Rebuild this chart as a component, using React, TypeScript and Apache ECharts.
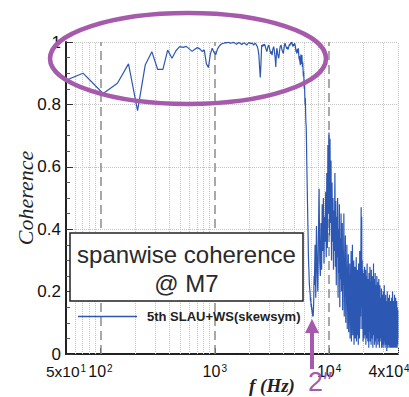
import React, { useEffect, useRef } from 'react';
import * as echarts from 'echarts';

const SERIES_NAME = '5th SLAU+WS(skewsym)';
const BIN_HZ = 35.2; // frequency resolution of the spectrum
const HIGH_STEP_BINS = 3; // high-frequency part is listed every 3rd bin

// coherence, bins 1..210 (f = k * BIN_HZ)
const cohLow: number[] = [
  0.855, 0.9, 0.835, 0.868, 0.93, 0.78, 0.926, 0.969, 0.912, 0.912,
  0.974, 0.948, 0.972, 0.985, 0.983, 0.986, 0.978, 0.97, 0.977, 0.982,
  0.978, 0.97, 0.974, 0.93, 0.918, 0.962, 0.98, 0.966, 0.96, 0.978,
  0.986, 0.992, 0.995,
  0.996, 0.998, 0.997, 0.999, 0.998, 0.996, 0.997, 0.999, 0.998, 0.995,
  0.993, 0.996, 0.998, 0.997, 0.994, 0.992, 0.995, 0.997, 0.996, 0.993,
  0.99, 0.994, 0.997, 0.998, 0.996, 0.994, 0.997, 0.995, 0.99, 0.993,
  0.996, 0.994, 0.988, 0.985, 0.975,
  0.958, 0.92, 0.886, 0.93, 0.99, 0.985, 0.992, 0.987, 0.993, 0.99,
  0.982, 0.975, 0.969, 0.978, 0.986, 0.99, 0.984, 0.975, 0.968, 0.962,
  0.97, 0.958, 0.972, 0.98, 0.985, 0.975, 0.96, 0.945, 0.92, 0.955,
  0.98, 0.972, 0.96, 0.952, 0.948, 0.96, 0.975, 0.985, 0.988, 0.99,
  0.982, 0.975, 0.97, 0.966, 0.963, 0.975, 0.985, 0.992, 0.996, 0.99,
  0.986, 0.982, 0.978, 0.984, 0.98, 0.976, 0.98, 0.985, 0.99, 0.993,
  0.988, 0.995, 0.997, 0.993, 0.998, 1.0, 0.995, 0.99, 0.985, 0.99,
  0.993, 0.988, 0.992, 0.996, 0.995, 0.985, 0.975, 0.968, 0.975, 0.963,
  0.97, 0.978, 0.972, 0.966, 0.98, 0.96, 0.945, 0.955, 0.94, 0.935,
  0.926, 0.95, 0.96, 0.945, 0.93, 0.958, 0.94, 0.92, 0.935, 0.91,
  0.89, 0.905, 0.88, 0.85, 0.87, 0.83, 0.8, 0.82, 0.77, 0.74,
  0.73, 0.68, 0.62, 0.57, 0.52, 0.47, 0.42, 0.38, 0.32, 0.29,
  0.27, 0.24, 0.22, 0.21, 0.2, 0.19, 0.17, 0.18, 0.16, 0.15,
  0.16, 0.14, 0.15, 0.13, 0.14, 0.12, 0.13, 0.12, 0.12, 0.16,
  0.21, 0.25,
];

// coherence, bins 211, 214, 217, ... (every 3rd bin up to ~40 kHz)
const cohHigh: number[] = [
  0.22, 0.35, 0.18, 0.41, 0.28, 0.2, 0.38, 0.53, 0.3, 0.25,
  0.42, 0.27, 0.48, 0.33, 0.5, 0.29, 0.44, 0.36, 0.52, 0.31,
  0.58, 0.34, 0.67, 0.45, 0.71, 0.38, 0.69, 0.42, 0.62, 0.3, 0.55,
  0.36, 0.5, 0.27, 0.46, 0.33, 0.58, 0.28, 0.49, 0.22, 0.44,
  0.31, 0.5, 0.18, 0.4, 0.26, 0.48, 0.15, 0.37, 0.24, 0.45, 0.2, 0.35,
  0.42, 0.14, 0.33, 0.22, 0.45, 0.12, 0.3, 0.19, 0.38, 0.1,
  0.27, 0.16, 0.35, 0.08, 0.25, 0.18, 0.32, 0.07, 0.22, 0.12, 0.29,
  0.05, 0.26, 0.11, 0.33, 0.04, 0.21, 0.14, 0.35, 0.06, 0.24,
  0.09, 0.3, 0.03, 0.19, 0.12, 0.28, 0.05, 0.23, 0.08, 0.31,
  0.04, 0.18, 0.13, 0.27, 0.06, 0.22, 0.03, 0.29, 0.1, 0.24,
  0.05, 0.33, 0.08, 0.21, 0.12, 0.3,
  0.47, 0.15, 0.44, 0.08, 0.3, 0.12, 0.27, 0.04, 0.22, 0.1, 0.26, 0.05, 0.19,
  0.28, 0.06, 0.21, 0.1, 0.27, 0.03, 0.18, 0.12, 0.25, 0.05,
  0.29, 0.08, 0.2, 0.04, 0.24, 0.11, 0.17, 0.02, 0.26, 0.07,
  0.22, 0.13, 0.28, 0.04, 0.16, 0.09, 0.23, 0.03, 0.27, 0.1,
  0.19, 0.05, 0.25, 0.12, 0.21, 0.02, 0.18, 0.08, 0.29, 0.06,
  0.15, 0.11, 0.24, 0.03, 0.2, 0.07, 0.26, 0.04, 0.17, 0.1,
  0.22, 0.02, 0.19, 0.09, 0.25, 0.05, 0.14, 0.08, 0.23, 0.03,
  0.21, 0.11, 0.18, 0.04, 0.24, 0.06, 0.16, 0.02, 0.2, 0.09,
  0.22, 0.05, 0.17, 0.08,
  0.18, 0.04, 0.13, 0.07, 0.21, 0.02, 0.15, 0.09, 0.19, 0.03,
  0.12, 0.06, 0.17, 0.02, 0.2, 0.08, 0.14, 0.03, 0.16, 0.05,
  0.22, 0.04, 0.11, 0.07, 0.18, 0.02, 0.13, 0.09, 0.19, 0.04,
  0.15, 0.03, 0.12, 0.06, 0.17, 0.01, 0.14, 0.08, 0.2, 0.03,
  0.1, 0.05, 0.16, 0.02, 0.13, 0.07, 0.18, 0.04, 0.11, 0.03,
  0.15, 0.06, 0.19, 0.02, 0.12, 0.08, 0.14, 0.03, 0.17, 0.05,
  0.1, 0.02, 0.16, 0.07, 0.13, 0.04, 0.18, 0.02, 0.11, 0.06,
  0.15, 0.03, 0.2, 0.05, 0.12, 0.02, 0.14, 0.07, 0.17, 0.03,
  0.11, 0.04, 0.16, 0.02, 0.13, 0.06, 0.19, 0.03, 0.1, 0.05,
  0.15, 0.02, 0.12, 0.07, 0.18, 0.04, 0.14, 0.02, 0.16, 0.05,
  0.11, 0.03, 0.17, 0.06, 0.13, 0.02, 0.15, 0.04, 0.12, 0.03,
  0.14, 0.05,
];

const X_MIN = 50;
const X_MAX = 40000;
const xTickValues = [50, 100, 1000, 10000, 40000];
const xTickMantissa = ['5x10', '10', '10', '10', '4x10'];
const xTickExponent = ['1', '2', '3', '4', '4'];
const majorGridHz = [100, 1000, 10000];
const minorGridHz = [
  60, 70, 80, 90, 200, 300, 400, 500, 600, 700, 800, 900,
  2000, 3000, 4000, 5000, 6000, 7000, 8000, 9000, 20000, 30000, 40000,
];

const SANS = "'Liberation Sans', Arial, Helvetica, sans-serif";
const SERIF = "'Liberation Serif', 'Times New Roman', serif";
const BLUE = '#2c58b4';
const PURPLE = '#a55aab';

export default function App() {
  const ref = useRef<HTMLDivElement>(null);

  useEffect(() => {
    if (!ref.current) return;
    const chart = echarts.init(ref.current, null, { renderer: 'svg' });

    const data: [number, number][] = [];
    cohLow.forEach((c, i) => data.push([(i + 1) * BIN_HZ, c]));
    const highStart = cohLow.length + 1;
    cohHigh.forEach((c, i) => data.push([(highStart + i * HIGH_STEP_BINS) * BIN_HZ, c]));

    const tickIndex = (v: number) =>
      xTickValues.findIndex((t) => Math.abs(Math.log10(v) - Math.log10(t)) < 0.01);

    chart.setOption({
      animation: false,
      backgroundColor: '#fff',
      grid: {
        left: 66,
        top: 42,
        width: 332,
        height: 312,
        containLabel: false,
        outerBoundsMode: 'none',
      },
      legend: {
        data: [SERIES_NAME],
        left: 78,
        top: 310,
        padding: 0,
        icon: 'rect',
        itemWidth: 59,
        itemHeight: 1.5,
        textStyle: {
          fontFamily: SANS,
          fontSize: 13,
          fontWeight: 'bold',
          color: '#222',
          padding: [0, 0, 0, 5],
        },
      },
      xAxis: {
        type: 'log',
        logBase: 10,
        min: X_MIN,
        max: X_MAX,
        name: 'f (Hz)',
        nameLocation: 'middle',
        nameGap: 21,
        nameMoveOverlap: false,
        nameTextStyle: {
          fontFamily: SERIF,
          fontStyle: 'italic',
          fontWeight: 'bold',
          fontSize: 19,
          lineHeight: 20,
          color: '#222',
          padding: [0, 0, 0, 80],
        },
        axisLine: { show: true, lineStyle: { color: '#222', width: 2 } },
        axisTick: { show: true, inside: true, length: 6, lineStyle: { color: '#222' } },
        minorTick: { show: false },
        splitLine: { show: false },
        axisLabel: {
          margin: 9,
          hideOverlap: false,
          showMinLabel: true,
          showMaxLabel: true,
          formatter: (v: number) => {
            const i = tickIndex(v);
            if (i < 0) return '';
            const eStyle = i === xTickValues.length - 1 ? 'eR' : 'e';
            const mStyle = i === 0 ? 'mL' : 'm';
            return `{${mStyle}|${xTickMantissa[i]}}{${eStyle}|${xTickExponent[i]}}`;
          },
          rich: {
            m: { fontFamily: SANS, fontSize: 16, color: '#111', lineHeight: 16 },
            mL: { fontFamily: SANS, fontSize: 15.5, color: '#111', lineHeight: 16 },
            e: { fontFamily: SANS, fontSize: 10, color: '#111', verticalAlign: 'top', lineHeight: 10, padding: [0, 0, 0, 1] },
            eR: { fontFamily: SANS, fontSize: 10, color: '#111', verticalAlign: 'top', lineHeight: 10, padding: [0, 18, 0, 1] },
          },
        },
      },
      yAxis: {
        type: 'value',
        min: 0,
        max: 1,
        interval: 0.2,
        name: 'Coherence',
        nameLocation: 'middle',
        nameRotate: 90,
        nameGap: 30,
        nameMoveOverlap: false,
        nameTextStyle: {
          fontFamily: SERIF,
          fontStyle: 'italic',
          fontSize: 22,
          color: '#222',
        },
        axisLine: { show: true, lineStyle: { color: '#222', width: 2 } },
        axisTick: { show: true, inside: true, length: 7, lineStyle: { color: '#333' } },
        minorTick: { show: true, splitNumber: 4, length: 4, lineStyle: { color: '#555' } },
        splitLine: { show: true, lineStyle: { color: '#c4c4c4', type: 'dotted', width: 1 } },
        axisLabel: {
          margin: 5,
          fontFamily: SANS,
          fontSize: 17,
          lineHeight: 15,
          color: '#111',
          formatter: (v: number) => (v === 0 ? '0' : v === 1 ? '1' : v.toFixed(1)),
        },
      },
      series: [
        {
          name: SERIES_NAME,
          type: 'line',
          data,
          color: BLUE,
          showSymbol: false,
          symbol: 'none',
          clip: true,
          z: 3,
          lineStyle: { color: BLUE, width: 1.2 },
          markLine: {
            silent: true,
            z: 1,
            symbol: ['none', 'none'],
            label: { show: false },
            data: [
              ...minorGridHz.map((v) => ({
                xAxis: v,
                lineStyle: { type: 'dotted', color: '#c4c4c4', width: 1 },
              })),
              ...majorGridHz.map((v) => ({
                xAxis: v,
                lineStyle: { type: [9, 5], color: '#8c8c8c', width: 1.5 },
              })),
            ],
          },
        },
      ],
      graphic: [
        {
          type: 'rect',
          z: 100,
          shape: { x: 70, y: 233, width: 233, height: 68 },
          style: { fill: '#fff', stroke: '#222', lineWidth: 1.5 },
        },
        {
          type: 'text',
          z: 101,
          x: 186.5,
          y: 254,
          style: {
            text: 'spanwise coherence',
            fontFamily: SANS,
            fontSize: 24,
            fill: '#2a2a2a',
            align: 'center',
            verticalAlign: 'middle',
          },
        },
        {
          type: 'text',
          z: 101,
          x: 186.5,
          y: 283,
          style: {
            text: '@ M7',
            fontFamily: SANS,
            fontSize: 24,
            fill: '#2a2a2a',
            align: 'center',
            verticalAlign: 'middle',
          },
        },
        {
          type: 'ellipse',
          z: 110,
          shape: { cx: 188, cy: 58.5, rx: 138, ry: 45.5 },
          style: { fill: 'none', stroke: PURPLE, lineWidth: 4.5 },
        },
        {
          type: 'line',
          z: 110,
          shape: { x1: 312, y1: 328, x2: 312, y2: 369 },
          style: { stroke: PURPLE, lineWidth: 4 },
        },
        {
          type: 'polygon',
          z: 110,
          shape: { points: [[312, 319], [305, 333], [319, 333]] },
          style: { fill: PURPLE },
        },
        {
          type: 'text',
          z: 110,
          x: 308,
          y: 394,
          style: {
            text: '2″',
            fontFamily: SANS,
            fontSize: 27,
            lineHeight: 24,
            fill: PURPLE,
            align: 'left',
            verticalAlign: 'bottom',
          },
        },
      ],
    });

    return () => chart.dispose();
  }, []);

  return (
    <div
      ref={ref}
      style={{ position: 'fixed', left: 0, top: 0, width: 409, height: 397, background: '#fff' }}
    />
  );
}
